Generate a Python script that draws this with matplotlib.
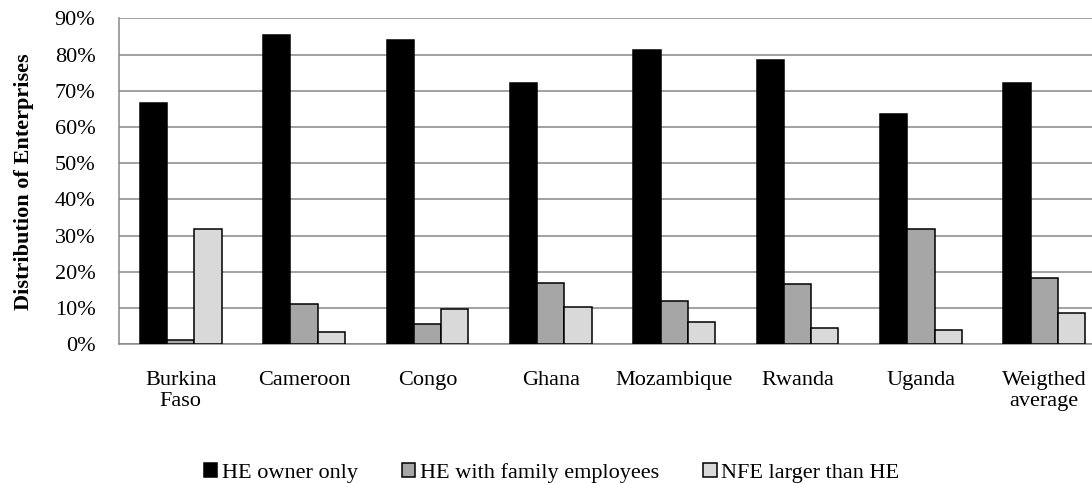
import matplotlib
matplotlib.use("Agg")
import matplotlib.pyplot as plt
import numpy as np
from matplotlib.ticker import PercentFormatter

countries = ["Burkina\nFaso", "Cameroon", "Congo", "Ghana", "Mozambique",
             "Rwanda", "Uganda", "Weigthed\naverage"]
owner_only = [66.6, 85.5, 84.1, 72.1, 81.3, 78.4, 63.5, 72.0]
family_emp = [1.1, 11.0, 5.7, 16.9, 12.0, 16.7, 31.8, 18.4]
nfe_larger = [31.8, 3.3, 9.8, 10.4, 6.2, 4.4, 4.0, 8.7]
series_names = ["HE owner only", "HE with family employees", "NFE larger than HE"]
yticks = [0, 10, 20, 30, 40, 50, 60, 70, 80, 90]

colors = ["#000000", "#A6A6A6", "#D9D9D9"]
GRID = "#878787"

plt.rcParams.update({"font.family": ["Liberation Serif", "DejaVu Serif"],
                     "font.size": 16})

fig = plt.figure(figsize=(10.92, 4.83), dpi=100)
ax = fig.add_axes([119 / 1092, 1 - 344.3 / 483, 987 / 1092, 326 / 483])

x = np.arange(len(countries))
w = 0.221
for i, (vals, c, name) in enumerate(zip([owner_only, family_emp, nfe_larger], colors, series_names)):
    ax.bar(x + (i - 1) * w, vals, w, color=c, edgecolor="black", linewidth=1.1,
           label=name, zorder=3)

ax.set_xlim(-0.5, len(countries) - 0.5)
ax.set_ylim(0, 90)
ax.set_yticks(yticks)
ax.yaxis.set_major_formatter(PercentFormatter(decimals=0))
ax.set_xticks(x)
ax.set_xticklabels(countries)
ax.tick_params(axis="both", length=0)
ax.tick_params(axis="y", pad=17)
ax.tick_params(axis="x", pad=19)

ax.grid(axis="y", color=GRID, lw=1.1, zorder=0)
ax.set_axisbelow(True)
for s in ["top", "right"]:
    ax.spines[s].set_visible(False)
for s in ["left", "bottom"]:
    ax.spines[s].set_color(GRID)
    ax.spines[s].set_linewidth(1.1)

# label anchor is its right-hand side once rotated
ax.set_ylabel("Distribution of Enterprises", fontweight="bold")
ax.yaxis.set_label_coords((34 - 119) / 987, 0.5)

fig.legend(loc="center", bbox_to_anchor=(0.505, 1 - 473 / 483), ncol=3, frameon=False,
           handlelength=0.6, handleheight=0.6, handletextpad=0.2, columnspacing=2.0,
           borderpad=0)

fig.savefig("out.png", dpi=100)
